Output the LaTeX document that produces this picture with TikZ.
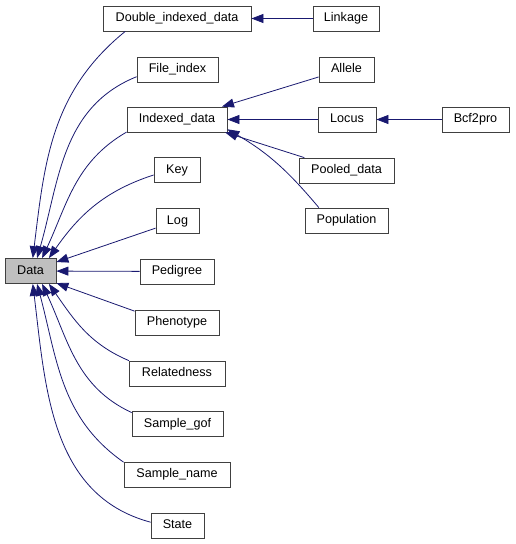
\documentclass[tikz,border=0pt]{standalone}
\usepackage{fontspec}
\setmainfont{Liberation Sans}
\usetikzlibrary{arrows.meta}
\definecolor{edgeblue}{HTML}{191970}
\tikzset{class box/.style={
    draw=black!75, line width=0.8pt,
    minimum height=25pt,
    minimum width=#1,
    anchor=center,
    inner sep=0pt,
    text height=9pt, text depth=2.6pt,
    font=\fontsize{12.6}{15}\selectfont
  },
  class box/.default=60pt,
  base box/.style={class box=#1, fill=black!25},
  inherit/.style={draw=edgeblue, line width=0.8pt, -{Triangle[length=12pt,width=9pt]}}
}

\begin{document}
\begin{tikzpicture}[x=1pt,y=1pt]
    \useasboundingbox (0,0) rectangle (515,-544);
    \node[base box=51pt]   (data)    at (30.5,-271)  {Data};
    \node[class box=148pt] (dbl)     at (177,-18.5)  {Double\_indexed\_data};
    \node[class box=66pt]  (linkage) at (346,-18.5)  {Linkage};
    \node[class box=81pt]  (file)    at (177.5,-69.5) {File\_index};
    \node[class box=100pt] (idx)     at (177,-119.5) {Indexed\_data};
    \node[class box=55pt]  (allele)  at (346.5,-69.5) {Allele};
    \node[class box=58pt]  (locus)   at (347,-119.5) {Locus};
    \node[class box=67pt]  (bcf)     at (475.5,-119.5) {Bcf2pro};
    \node[class box=95pt]  (pooled)  at (346.5,-170.5) {Pooled\_data};
    \node[class box=83pt]  (pop)     at (346.5,-220.5) {Population};
    \node[class box=46pt]  (key)     at (177,-170)   {Key};
    \node[class box=43pt]  (log)     at (177.5,-221) {Log};
    \node[class box=74pt]  (ped)     at (177,-271.5) {Pedigree};
    \node[class box=84pt]  (pheno)   at (177,-322.5) {Phenotype};
    \node[class box=96pt]  (rel)     at (177,-373.5) {Relatedness};
    \node[class box=91pt]  (gof)     at (177.5,-424) {Sample\_gof};
    \node[class box=106pt] (sname)   at (177,-474.5) {Sample\_name};
    \node[class box=53pt]  (state)   at (177.5,-525.5) {State};

    \draw[inherit] (linkage) -- (dbl);
    \draw[inherit] (bcf) -- (locus);
    \draw[inherit] (allele.195) -- (idx.16);
    \draw[inherit] (locus) -- (idx);
    \draw[inherit] (pooled.163) -- (idx.-15);
    \draw[inherit] (pop.155) to[out=130, in=-30] (idx.-11);

    \draw[inherit] (dbl.194) to[out=219, in=83] (data.80);
    \draw[inherit] (file.190) to[out=202, in=74] (data.63);
    \draw[inherit] (idx.194) to[out=210, in=65] (data.48);
    \draw[inherit] (key.192) to[out=198, in=55] (data.35);
    \draw[inherit] (log.198) -- (data.19);
    \draw[inherit] (ped) -- (data);
    \draw[inherit] (pheno.165) -- (data.-25);
    \draw[inherit] (rel.165) to[out=157, in=-55] (data.-35);
    \draw[inherit] (gof.166) to[out=155, in=-65] (data.-48);
    \draw[inherit] (sname.167) to[out=145, in=-75] (data.-63);
    \draw[inherit] (state.173) to[out=165, in=-83] (data.-80);
\end{tikzpicture}
\end{document}
